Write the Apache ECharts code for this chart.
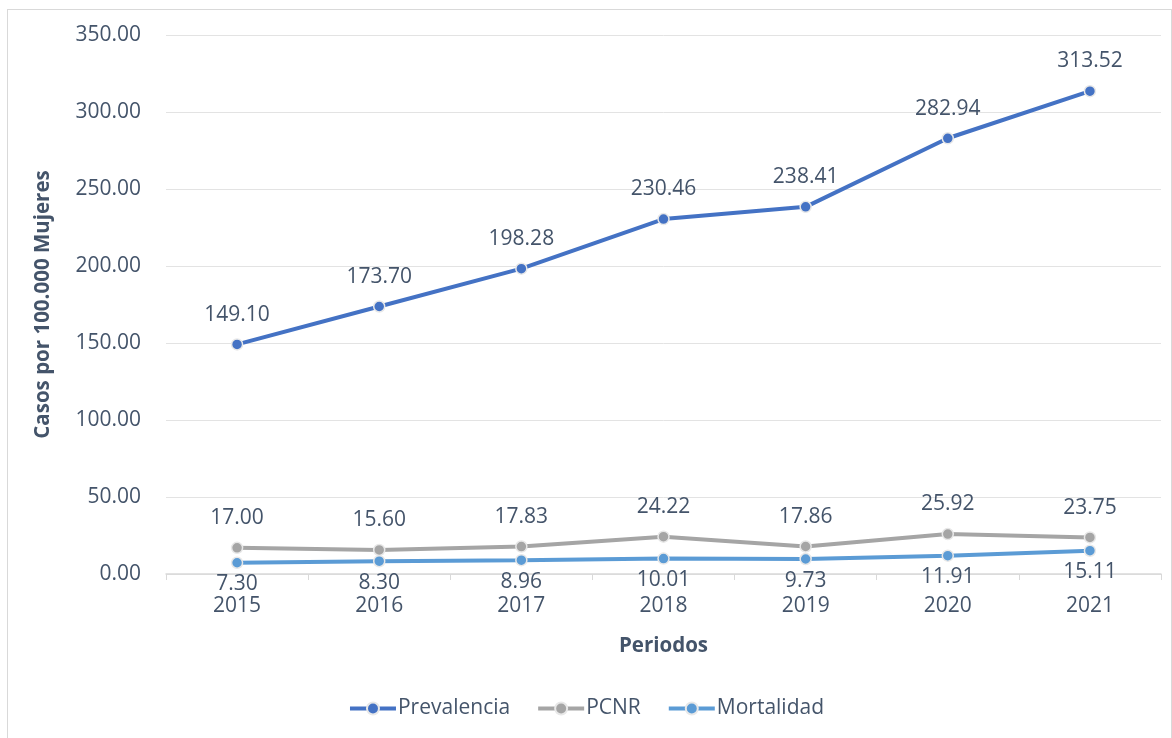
<!DOCTYPE html>
<html><head><meta charset="utf-8">
<script src="https://cdn.jsdelivr.net/npm/echarts@6/dist/echarts.min.js"></script>
<style>
html,body{margin:0;padding:0;background:#fff;}
#frame{position:absolute;left:7px;top:9px;width:1165px;height:740px;border:1px solid #d9d9d9;box-sizing:border-box;}
#c{position:absolute;left:0;top:0;width:1172px;height:738px;}
</style></head>
<body>
<div id="frame"></div>
<div id="c"></div>
<script>
const categories = ['2015','2016','2017','2018','2019','2020','2021'];
const prevalencia = [149.10, 173.70, 198.28, 230.46, 238.41, 282.94, 313.52];
const pcnr = [17.00, 15.60, 17.83, 24.22, 17.86, 25.92, 23.75];
const mortalidad = [7.30, 8.30, 8.96, 10.01, 9.73, 11.91, 15.11];

const txt = '#44546a';
const fontFam = 'Open Sans, Noto Sans, sans-serif';
const fs = 21;
function series(name, data, color, pos){
  return {
    name, type:'line', data, symbol:'circle', symbolSize:11,
    lineStyle:{width:4, color},
    itemStyle:{color, borderColor:'#e8e8e8', borderWidth:1.5},
    label:{show:true, position:pos, distance: pos==='top'?13:5, color:txt, fontSize:fs, fontFamily:fontFam,
      formatter:p=>p.value.toFixed(2)},
    emphasis:{disabled:true}
  };
}
const chart = echarts.init(document.getElementById('c'));
chart.setOption({
  animation:false,
  textStyle:{fontFamily:fontFam},
  grid:{left:166, right:11, top:35, bottom:164},
  legend:{bottom:14, left:'center', itemGap:26, itemWidth:46, itemHeight:15,
    lineStyle:{width:4},
    textStyle:{color:txt, fontSize:fs, fontFamily:fontFam, padding:[0,0,0,-3]},
    data:['Prevalencia','PCNR','Mortalidad']},
  xAxis:{type:'category', data:categories, boundaryGap:true,
    name:'Periodos', nameLocation:'middle', nameGap:62,
    nameTextStyle:{color:txt, fontSize:20.5, fontWeight:'bold', fontFamily:fontFam},
    axisLine:{lineStyle:{color:'#d9d9d9', width:1.5}},
    axisTick:{show:true, length:6, lineStyle:{color:'#d9d9d9'}},
    axisLabel:{color:txt, fontSize:fs, margin:22, fontFamily:fontFam}},
  yAxis:{type:'value', min:0, max:350, interval:50,
    name:'Casos por 100.000 Mujeres', nameLocation:'middle', nameGap:112,
    nameTextStyle:{color:txt, fontSize:20.5, fontWeight:'bold', fontFamily:fontFam},
    axisLine:{show:false}, axisTick:{show:false},
    splitLine:{lineStyle:{color:'#e3e3e3', width:1}},
    axisLabel:{color:txt, fontSize:fs, margin:25, fontFamily:fontFam, formatter:v=>v.toFixed(2)}},
  series:[
    series('Prevalencia', prevalencia, '#4472c4', 'top'),
    series('PCNR', pcnr, '#a5a5a5', 'top'),
    series('Mortalidad', mortalidad, '#5b9bd5', 'bottom')
  ]
});
</script>
</body></html>
